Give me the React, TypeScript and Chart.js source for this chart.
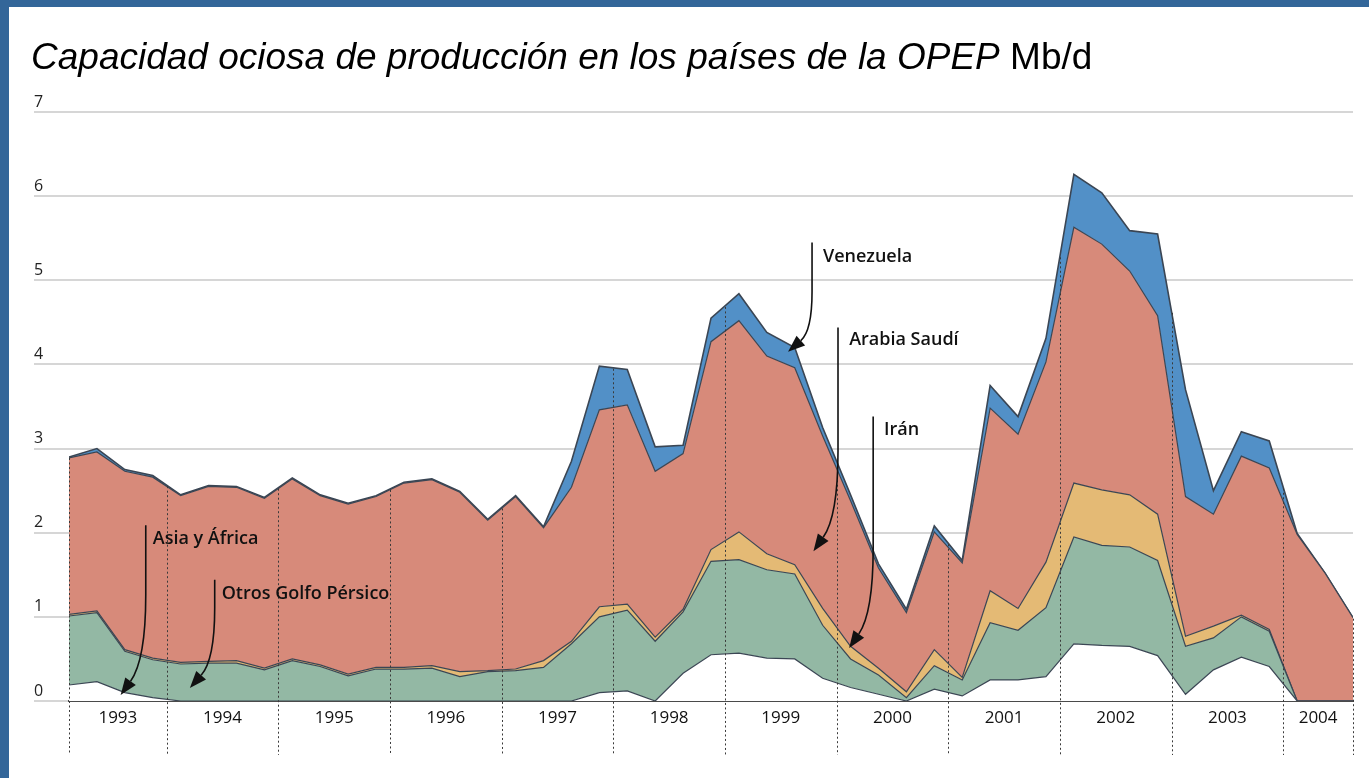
import React, { useEffect, useRef } from "react";
import { Chart, registerables } from "chart.js";

Chart.register(...registerables);

if (typeof document !== "undefined") {
  document.body.style.margin = "0";
}

// ---- Data -----------------------------------------------------------------
const YEARS = ["1993", "1994", "1995", "1996", "1997", "1998", "1999", "2000", "2001", "2002", "2003", "2004"];
// quarterly categories: 1993 T1 ... 2004 T3 (47 quarters)
const QUARTERS: string[] = [];
YEARS.forEach((yr) => ["T1", "T2", "T3", "T4"].forEach((q) => QUARTERS.push(yr + " " + q)));
QUARTERS.splice(47);

// tick labels at year centres, dotted separators at year boundaries (quarter index units)
const YEAR_CENTERS = [1.75, 5.5, 9.5, 13.5, 17.5, 21.5, 25.5, 29.5, 33.5, 37.5, 41.5, 44.75];
const YEAR_BOUNDARIES = [0, 3.5, 7.5, 11.5, 15.5, 19.5, 23.5, 27.5, 31.5, 35.5, 39.5, 43.5, 46];
const Y_MIN = 0;
const Y_MAX = 7;

const ASIA_AFRICA = [
  0.19, 0.23, 0.1, 0.04, 0, 0, 0, 0, 0, 0, 0, 0, 0, 0, 0, 0, 0, 0, 0, 0.1, 0.12, 0.0, 0.33, 0.55,
  0.57, 0.51, 0.5, 0.27, 0.16, 0.08, 0.0, 0.14, 0.06, 0.25, 0.25, 0.29, 0.68, 0.66, 0.65, 0.54, 0.08,
  0.37, 0.52, 0.41, 0, 0, 0,
];
const OTROS_GOLFO = [
  0.82, 0.82, 0.49, 0.45, 0.44, 0.45, 0.45, 0.37, 0.48, 0.41, 0.3, 0.38, 0.38, 0.39, 0.29, 0.35, 0.36,
  0.4, 0.68, 0.9, 0.96, 0.71, 0.73, 1.11, 1.11, 1.05, 1.01, 0.63, 0.34, 0.23, 0.04, 0.28, 0.19, 0.68,
  0.59, 0.82, 1.27, 1.19, 1.18, 1.13, 0.57, 0.38, 0.48, 0.42, 0, 0, 0,
];
const IRAN = [
  0.02, 0.02, 0.02, 0.02, 0.02, 0.02, 0.03, 0.02, 0.02, 0.02, 0.02, 0.02, 0.02, 0.03, 0.06, 0.01, 0.02,
  0.08, 0.03, 0.12, 0.07, 0.05, 0.03, 0.14, 0.33, 0.19, 0.11, 0.2, 0.15, 0.08, 0.07, 0.19, 0.03, 0.38,
  0.26, 0.54, 0.64, 0.66, 0.62, 0.55, 0.12, 0.14, 0.02, 0.02, 0, 0, 0,
];
const ARABIA_SAUDI = [
  1.86, 1.89, 2.12, 2.15, 1.98, 2.08, 2.06, 2.02, 2.14, 2.01, 2.02, 2.03, 2.19, 2.21, 2.13, 1.79, 2.05,
  1.58, 1.83, 2.34, 2.37, 1.97, 1.85, 2.47, 2.51, 2.35, 2.34, 2.05, 1.73, 1.19, 0.94, 1.4, 1.36, 2.17,
  2.07, 2.38, 3.04, 2.92, 2.66, 2.36, 1.66, 1.33, 1.89, 1.92, 1.98, 1.52, 0.99,
];
const VENEZUELA = [
  0.01, 0.04, 0.02, 0.02, 0.01, 0.01, 0.01, 0.01, 0.01, 0.01, 0.01, 0.01, 0.01, 0.01, 0.01, 0.01, 0.01,
  0.01, 0.31, 0.52, 0.42, 0.29, 0.1, 0.28, 0.32, 0.28, 0.24, 0.1, 0.07, 0.05, 0.04, 0.07, 0.03, 0.27,
  0.21, 0.28, 0.63, 0.61, 0.48, 0.97, 1.27, 0.28, 0.29, 0.32, 0.01, 0, 0,
];

// annotation labels with arrows, in data units (x = quarter index, y = Mb/d)
const ANNOTATIONS = [
  { text: "Asia y África", textX: 3.0, textY: 1.87, lineX: 2.75, lineTop: 2.09, tipX: 1.85, tipY: 0.07, bend: 100 },
  { text: "Otros Golfo Pérsico", textX: 5.47, textY: 1.21, lineX: 5.22, lineTop: 1.44, tipX: 4.33, tipY: 0.155, bend: 80 },
  { text: "Venezuela", textX: 27.01, textY: 5.22, lineX: 26.62, lineTop: 5.45, tipX: 25.76, tipY: 4.15, bend: 60 },
  { text: "Arabia Saudí", textX: 27.95, textY: 4.23, lineX: 27.55, lineTop: 4.44, tipX: 26.67, tipY: 1.78, bend: 100 },
  { text: "Irán", textX: 29.2, textY: 3.16, lineX: 28.81, lineTop: 3.38, tipX: 27.95, tipY: 0.63, bend: 100 },
];

const FONT_UI = '"Open Sans", "Noto Sans", "DejaVu Sans", sans-serif';
const OUTLINE = "#3b4654";

const yearLinesPlugin = {
  id: "yearLines",
  afterDatasetsDraw(chart: any) {
    const { ctx, scales, chartArea } = chart;
    const x = scales.x;
    const meta = chart.getDatasetMeta(chart.data.datasets.length - 1);
    const pts = meta.data;
    ctx.save();
    ctx.strokeStyle = "#3a3a3a";
    ctx.lineWidth = 1;
    ctx.setLineDash([2, 2.5]);
    for (const b of YEAR_BOUNDARIES) {
      const px = Math.round(x.getPixelForValue(b)) + 0.5;
      const i0 = Math.min(Math.floor(b), pts.length - 2);
      const t = b - i0;
      const yTop = pts[i0].y + (pts[i0 + 1].y - pts[i0].y) * t;
      ctx.beginPath();
      ctx.moveTo(px, yTop + 1);
      ctx.lineTo(px, chartArea.bottom + 54);
      ctx.stroke();
    }
    ctx.restore();
  },
};

const annotationPlugin = {
  id: "arrowLabels",
  afterDraw(chart: any) {
    const { ctx, scales } = chart;
    const x = scales.x;
    const y = scales.y;
    ctx.save();
    ctx.strokeStyle = "#111";
    ctx.fillStyle = "#111";
    ctx.lineWidth = 1.6;
    ctx.font = "600 18px " + FONT_UI;
    ctx.textBaseline = "alphabetic";
    ctx.textAlign = "left";
    for (const a of ANNOTATIONS) {
      const lx = x.getPixelForValue(a.lineX);
      const ly = y.getPixelForValue(a.lineTop);
      const tx = x.getPixelForValue(a.tipX);
      const ty = y.getPixelForValue(a.tipY);
      const bendY = ty - a.bend;
      const cy = ty - a.bend * 0.35;
      const ang = Math.atan2(ty - cy, tx - lx);
      const headLen = 17;
      const headW = 6.5;
      const bx = tx - headLen * Math.cos(ang);
      const by = ty - headLen * Math.sin(ang);
      ctx.beginPath();
      ctx.moveTo(lx, ly);
      ctx.lineTo(lx, bendY);
      ctx.quadraticCurveTo(lx, cy, bx, by);
      ctx.stroke();
      ctx.beginPath();
      ctx.moveTo(tx, ty);
      ctx.lineTo(bx + headW * Math.sin(ang), by - headW * Math.cos(ang));
      ctx.lineTo(bx - headW * Math.sin(ang), by + headW * Math.cos(ang));
      ctx.closePath();
      ctx.fill();
      ctx.fillText(a.text, x.getPixelForValue(a.textX), y.getPixelForValue(a.textY));
    }
    ctx.restore();
  },
};

function toPoints(arr: number[]) {
  return arr.map((v, i) => ({ x: i, y: v }));
}

export default function App() {
  const canvasRef = useRef<HTMLCanvasElement | null>(null);

  useEffect(() => {
    if (!canvasRef.current) return;
    const mk = (label: string, data: number[], color: string, fill: any, bw = 1.2) => ({
      label,
      data: toPoints(data),
      backgroundColor: color,
      borderColor: OUTLINE,
      borderWidth: bw,
      fill,
      tension: 0,
      pointRadius: 0,
      pointHoverRadius: 0,
    });
    const chart = new Chart(canvasRef.current, {
      type: "line",
      data: {
        labels: QUARTERS,
        datasets: [
          mk("Asia y África", ASIA_AFRICA, "#ffffff", "origin"),
          mk("Otros Golfo Pérsico", OTROS_GOLFO, "#93b8a4", "-1"),
          mk("Irán", IRAN, "#e4ba75", "-1"),
          mk("Arabia Saudí", ARABIA_SAUDI, "#d78a7a", "-1"),
          mk("Venezuela", VENEZUELA, "#5290c7", "-1", 1.6),
        ],
      },
      options: {
        animation: false,
        responsive: true,
        maintainAspectRatio: false,
        layout: { padding: { left: 34, right: 16, top: 112, bottom: 17 } },
        plugins: {
          legend: { display: false },
          tooltip: { enabled: false },
          title: { display: false },
        },
        scales: {
          x: {
            type: "linear",
            min: 0,
            max: 46,
            z: 1,
            afterBuildTicks: (s: any) => {
              s.ticks = YEAR_CENTERS.map((v) => ({ value: v }));
            },
            afterFit: (s: any) => {
              s.height = 60;
            },
            ticks: {
              autoSkip: false,
              maxRotation: 0,
              padding: 7,
              color: "#111",
              font: { family: FONT_UI, size: 17, weight: "500" },
              callback: (_v: any, i: number) => YEARS[i],
            },
            grid: { display: false, drawTicks: false },
            border: { display: true, color: "#4a4a4a", width: 2 },
          },
          y: {
            stacked: true,
            min: Y_MIN,
            max: Y_MAX,
            afterFit: (s: any) => {
              s.width = 35;
            },
            ticks: {
              stepSize: 1,
              crossAlign: "far",
              labelOffset: -10,
              padding: 0,
              color: "#222",
              font: { family: FONT_UI, size: 16 },
            },
            grid: { color: "#d6d6d6", lineWidth: 2, tickLength: 35, drawTicks: true },
            border: { display: false },
          },
        },
      } as any,
      plugins: [yearLinesPlugin, annotationPlugin],
    });
    return () => chart.destroy();
  }, []);

  return (
    <div style={{ position: "relative", width: 1369, height: 778, background: "#fff", overflow: "hidden" }}>
      <div style={{ position: "absolute", left: 0, top: 0, width: 1369, height: 778 }}>
        <canvas ref={canvasRef} />
      </div>
      <div
        style={{
          position: "absolute",
          left: 31,
          top: 38,
          font: '37px "Liberation Sans", Arial, sans-serif',
          lineHeight: "37px",
          color: "#000",
          whiteSpace: "nowrap",
        }}
      >
        <i>Capacidad ociosa de producción en los países de la OPEP</i> Mb/d
      </div>
      <div style={{ position: "absolute", left: 0, top: 0, width: 1369, height: 7, background: "#336699" }} />
      <div style={{ position: "absolute", left: 0, top: 0, width: 9, height: 778, background: "#336699" }} />
    </div>
  );
}
